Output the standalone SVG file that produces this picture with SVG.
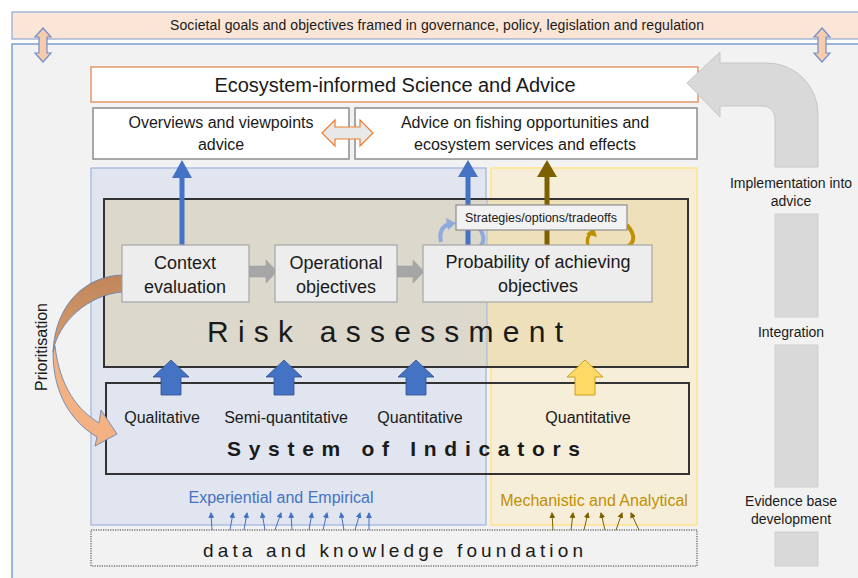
<svg xmlns="http://www.w3.org/2000/svg" width="858" height="578" viewBox="0 0 858 578">
<defs>
<style>
text{font-family:"Liberation Sans",Arial,sans-serif;fill:#1a1a1a}
.c{text-anchor:middle}
.box{fill:#EDEDED;stroke:#A5A5A5;stroke-width:1.2}
.wbox{fill:#FFFFFF;stroke:#8C8C8C;stroke-width:1.5}
.blk{fill:#4472C4;stroke:#2F528F;stroke-width:0.8}
.gry{fill:#A6A6A6;stroke:#999;stroke-width:0.5}
.bar{fill:#D9D9D9;stroke:#CFCFCF;stroke-width:1}
.dbl{fill:#F8CBAD;stroke:#6F8FCB;stroke-width:1.2}
.sb{stroke:#4472C4;stroke-width:1;fill:none}
.sg{stroke:#7F6000;stroke-width:1;fill:none}
</style>
<marker id="mb" markerWidth="6" markerHeight="6" refX="5" refY="3" orient="auto" markerUnits="userSpaceOnUse"><path d="M0,0 L6,3 L0,6 Z" fill="#4472C4"/></marker>
<marker id="mg" markerWidth="6" markerHeight="6" refX="5" refY="3" orient="auto" markerUnits="userSpaceOnUse"><path d="M0,0 L6,3 L0,6 Z" fill="#7F6000"/></marker>
<linearGradient id="pg" x1="0" y1="275" x2="0" y2="360" gradientUnits="userSpaceOnUse"><stop offset="0" stop-color="#C08659"/><stop offset="1" stop-color="#D9A072"/></linearGradient>
</defs>

<g id="panel"><rect x="12" y="44" width="860" height="545" fill="#F2F2F2" stroke="#7F9FCF" stroke-width="1.5"/></g>

<g id="societal">
<rect x="12" y="12" width="860" height="27" fill="#FBE5D6" stroke="#8FA9CF" stroke-width="1.2"/>
<text class="c" x="437" y="30" font-size="14" textLength="534">Societal goals and objectives framed in governance, policy, legislation and regulation</text>
</g>

<g id="regions">
<rect id="empirical-region" x="91" y="168" width="395" height="357" fill="#E0E5EF" stroke="#9DB4DD" stroke-width="1.2"/>
<rect id="analytical-region" x="491" y="168" width="206" height="357" fill="#F7EEDA" stroke="#FFE38A" stroke-width="1.5"/>
</g>

<g id="ecosystem-advice">
<rect x="91" y="67" width="607" height="35" fill="#FFFFFF" stroke="#E4986A" stroke-width="1.5"/>
<text class="c" x="395" y="92" font-size="20" textLength="361">Ecosystem-informed Science and Advice</text>
</g>

<g id="overviews">
<rect class="wbox" x="93" y="108" width="256" height="51"/>
<text class="c" x="221" y="128" font-size="16">Overviews and viewpoints</text>
<text class="c" x="221" y="150" font-size="16">advice</text>
</g>

<g id="advice-fishing">
<rect class="wbox" x="355" y="108" width="342" height="51"/>
<text class="c" x="525" y="128" font-size="16">Advice on fishing opportunities and</text>
<text class="c" x="525" y="150" font-size="16">ecosystem services and effects</text>
</g>

<g id="risk-assessment">
<rect x="104" y="199" width="383" height="168" fill="#DCD8CC"/>
<rect x="487" y="199" width="201" height="168" fill="#EEE0BA"/>
<line x1="487" y1="199" x2="487" y2="367" stroke="#9DB4DD" stroke-width="1"/>
<rect x="104" y="199" width="584" height="168" fill="none" stroke="#333" stroke-width="2"/>
<text x="207" y="342" font-size="30" textLength="356">Risk assessment</text>
</g>

<g id="indicators">
<rect x="106" y="383" width="583" height="91" fill="none" stroke="#333" stroke-width="2"/>
<text class="c" x="162" y="423" font-size="16">Qualitative</text>
<text class="c" x="286" y="423" font-size="16">Semi-quantitative</text>
<text class="c" x="420" y="423" font-size="16">Quantitative</text>
<text class="c" x="588" y="423" font-size="16">Quantitative</text>
<text x="227" y="456" font-size="21" font-weight="bold" textLength="353">System of Indicators</text>
</g>

<g id="connectors">
<path d="M179.5,245 V178 H172 L182,160 L192,178 H184.5 V245 Z" fill="#4472C4"/>
<path d="M465.5,245 V177 H458 L468,160 L478,177 H470.5 V245 Z" fill="#4472C4"/>
<path d="M544.5,245 V177 H537 L547,160 L557,177 H549.5 V245 Z" fill="#7F6000"/>
<path d="M322,133 L335,120 V127 H360 V120 L373,133 L360,146 V139 H335 V146 Z" fill="#E8E8E8" stroke="#ED7D31" stroke-width="1.2"/>
<path class="dbl" d="M43,28 L51,37 H47 V53 H51 L43,62 L35,53 H39 V37 H35 Z"/>
<path class="dbl" d="M822,28 L830,37 H826 V53 H830 L822,62 L814,53 H818 V37 H814 Z"/>
<path class="gry" d="M249,266 H266 V260 L277,271.5 L266,283 V277 H249 Z"/>
<path class="gry" d="M397,266 H413 V260 L424,271.5 L413,283 V277 H397 Z"/>
<path class="blk" d="M161,395 V377 H153 L171,360 L189,377 H181 V395 Z"/>
<path class="blk" d="M274,395 V377 H266 L284,360 L302,377 H294 V395 Z"/>
<path class="blk" d="M406,395 V377 H398 L416,360 L434,377 H426 V395 Z"/>
<path d="M575,395 V377 H567 L585,360 L603,377 H595 V395 Z" fill="#FFD966" stroke="#BF9000" stroke-width="0.8"/>
<path d="M687,83 L720,52 V63 H767 A51,51 0 0 1 818,114 V167 H775 V118 A12,12 0 0 0 763,106 H720 V117 Z" fill="#D9D9D9" stroke="#C6C6C6" stroke-width="1"/>
<rect class="bar" x="775" y="214" width="43" height="103"/>
<rect class="bar" x="775" y="345" width="43" height="142"/>
<rect class="bar" x="775" y="532" width="43" height="34"/>
<path d="M122,275 C85,276 55,305 53,352 C58,322 88,295 122,292 Z" fill="url(#pg)" stroke="#5B7DB1" stroke-width="0.8"/>
<path d="M53,352 C53,395 72,422 97,437 L95,446 L117,434 L101,410 L99,423 C78,410 60,388 55,346 Z" fill="#F4B183" stroke="#5B7DB1" stroke-width="0.8"/>
<path d="M441,242 Q438,228 449,224" fill="none" stroke="#8FAADC" stroke-width="4"/>
<path d="M446,218 L456,223 L448,230 Z" fill="#8FAADC"/>
<path d="M480,229 Q488,242 477,249" fill="none" stroke="#8FAADC" stroke-width="4"/>
<path d="M481,245 L471,252 L483,255 Z" fill="#8FAADC"/>
<path d="M588,246 Q586,237 591,233" fill="none" stroke="#BF9000" stroke-width="3.5"/>
<path d="M586,234 L594,228 L597,237 Z" fill="#BF9000"/>
<path d="M627,225 Q640,240 626,248" fill="none" stroke="#BF9000" stroke-width="4"/>
<path d="M629,243 L619,251 L631,254 Z" fill="#BF9000"/>
<g class="sb" marker-end="url(#mb)">
<line x1="212" y1="530" x2="211" y2="513"/><line x1="230" y1="530" x2="233" y2="513"/><line x1="244" y1="530" x2="247" y2="513"/><line x1="265" y1="530" x2="262" y2="513"/><line x1="275" y1="530" x2="281" y2="513"/><line x1="292" y1="530" x2="291" y2="513"/><line x1="309" y1="530" x2="312" y2="513"/><line x1="323" y1="530" x2="327" y2="513"/><line x1="344" y1="530" x2="341" y2="513"/><line x1="355" y1="530" x2="360" y2="513"/><line x1="369" y1="530" x2="369" y2="513"/>
</g>
<g class="sg" marker-end="url(#mg)">
<line x1="553" y1="530" x2="552" y2="513"/><line x1="571" y1="530" x2="573" y2="513"/><line x1="584" y1="530" x2="588" y2="513"/><line x1="605" y1="530" x2="601" y2="513"/><line x1="616" y1="530" x2="622" y2="513"/><line x1="639" y1="530" x2="631" y2="513"/>
</g>
</g>

<g id="context-evaluation">
<rect class="box" x="122" y="245" width="127" height="57"/>
<text class="c" x="185" y="269" font-size="18">Context</text>
<text class="c" x="185" y="293" font-size="18">evaluation</text>
</g>
<g id="operational-objectives">
<rect class="box" x="275" y="245" width="122" height="57"/>
<text class="c" x="336" y="269" font-size="18">Operational</text>
<text class="c" x="336" y="293" font-size="18">objectives</text>
</g>
<g id="probability">
<rect class="box" x="423" y="245" width="229" height="57"/>
<text class="c" x="538" y="268" font-size="18">Probability of achieving</text>
<text class="c" x="538" y="292" font-size="18">objectives</text>
</g>
<g id="strategies">
<rect x="456" y="205" width="171" height="25" fill="#F2F2F2" stroke="#8C8C8C" stroke-width="1.2"/>
<text class="c" x="541" y="222" font-size="12.5">Strategies/options/tradeoffs</text>
</g>

<g id="labels">
<text class="c" transform="translate(47,347) rotate(-90)" font-size="16">Prioritisation</text>
<text class="c" x="281" y="503" font-size="16" style="fill:#4472C4">Experiential and Empirical</text>
<text class="c" x="594" y="506" font-size="16" style="fill:#BF9000">Mechanistic and Analytical</text>
<text class="c" x="791" y="188" font-size="14">Implementation into</text>
<text class="c" x="791" y="206" font-size="14">advice</text>
<text class="c" x="791" y="337" font-size="14">Integration</text>
<text class="c" x="791" y="506" font-size="14">Evidence base</text>
<text class="c" x="791" y="524" font-size="14">development</text>
</g>

<g id="data-foundation">
<rect x="91" y="530" width="606" height="36" fill="#F2F2F2" stroke="#333" stroke-width="1" stroke-dasharray="1.2,1.2"/>
<text x="203" y="557" font-size="19" textLength="380">data and knowledge foundation</text>
</g>
</svg>
